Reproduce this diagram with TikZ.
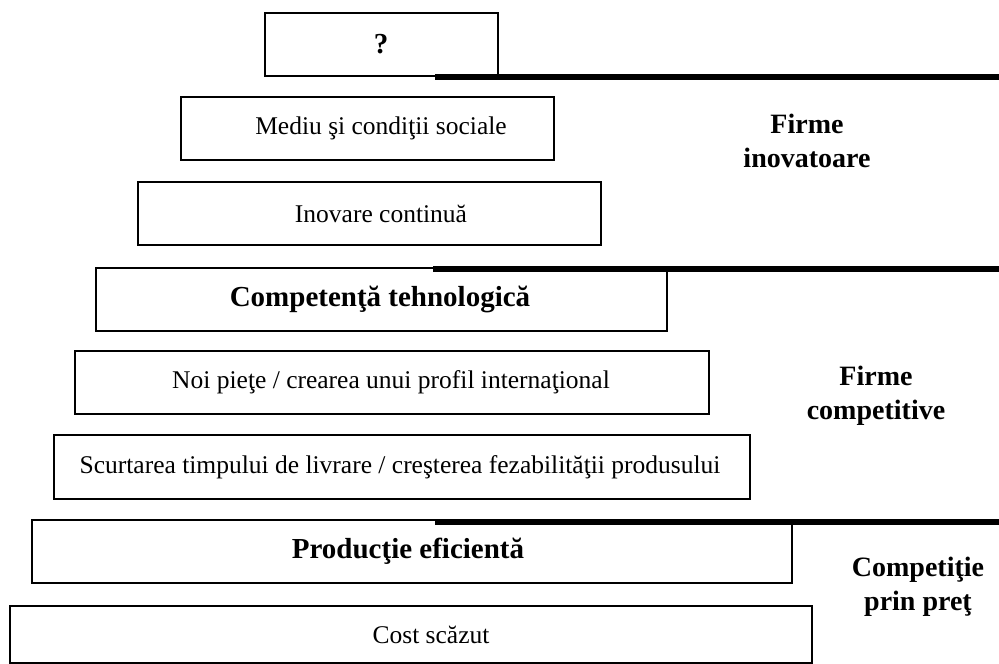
\documentclass[tikz,border=0pt]{standalone}
\usepackage{fontspec}
\setmainfont{Liberation Serif}
\begin{document}
\begin{tikzpicture}[x=1pt,y=-1pt,
  level/.style={draw=black,line width=2pt,rectangle,inner sep=0pt},
  boxtext/.style={inner sep=0pt,font=\fontsize{25.5}{30}\selectfont},
  boxbold/.style={inner sep=0pt,font=\fontsize{29}{33}\selectfont\bfseries},
  grouplabel/.style={inner sep=0pt,align=center,font=\fontsize{28}{34}\selectfont\bfseries},
  divider/.style={line width=6pt}]
\useasboundingbox (0,0) rectangle (999,664);

% pyramid levels, top to bottom
\node[level,minimum width=233pt,minimum height=63pt] (b1) at (381.5,44.5) {};
\node[level,minimum width=373pt,minimum height=63pt] (b2) at (367.5,128.5) {};
\node[level,minimum width=463pt,minimum height=63pt] (b3) at (369.5,213.5) {};
\node[level,minimum width=571pt,minimum height=63pt] (b4) at (381.5,299.5) {};
\node[level,minimum width=634pt,minimum height=63pt] (b5) at (392,382.5) {};
\node[level,minimum width=696pt,minimum height=64pt] (b6) at (402,467) {};
\node[level,minimum width=760pt,minimum height=63pt] (b7) at (412,551.5) {};
\node[level,minimum width=802pt,minimum height=57pt] (b8) at (411,634.5) {};

% level texts
\node[boxbold] (t1) at (381,44.5) {?};
\node[boxtext] (t2) at (381,128.5) {Mediu şi condiţii sociale};
\node[boxtext] (t3) at (381,213.5) {Inovare continuă};
\node[boxbold] (t4) at (380,299.5) {Competenţă tehnologică};
\node[boxtext] (t5) at (391,382.5) {Noi pieţe / crearea unui profil internaţional};
\node[boxtext] (t6) at (400,467) {Scurtarea timpului de livrare / creşterea fezabilităţii produsului};
\node[boxbold] (t7) at (408,551.5) {Producţie eficientă};
\node[boxtext] (t8) at (431,634.5) {Cost scăzut};

% dividers between the groups
\coordinate (d1a) at (435,77);  \coordinate (d1b) at (999,77);
\coordinate (d2a) at (433,269); \coordinate (d2b) at (999,269);
\coordinate (d3a) at (435,522); \coordinate (d3b) at (999,522);
\draw[divider] (d1a) -- (d1b);
\draw[divider] (d2a) -- (d2b);
\draw[divider] (d3a) -- (d3b);

% group labels
\node[grouplabel] (g1) at (807,141) {Firme\\inovatoare};
\node[grouplabel] (g2) at (876,396) {Firme\\competitive};
\node[grouplabel] (g3) at (918,587) {Competiţie\\prin preţ};
\end{tikzpicture}
\end{document}
